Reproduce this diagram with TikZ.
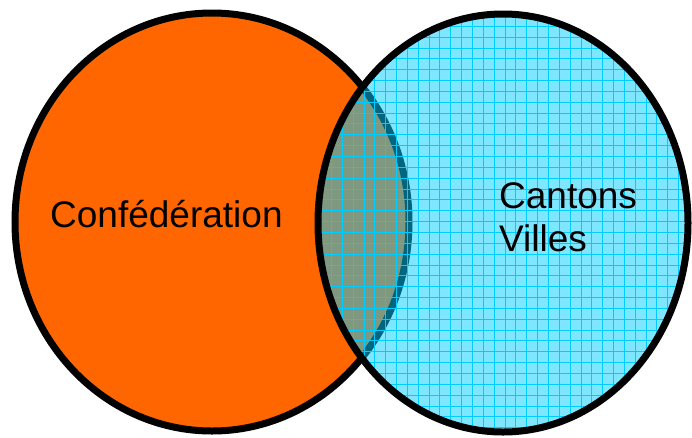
\documentclass[tikz,border=0pt]{standalone}
\usepackage{fontspec}
\setmainfont{Liberation Sans}
\definecolor{confed}{RGB}{255,102,0}
\definecolor{canton}{RGB}{0,205,255}
\definecolor{cantongrid}{RGB}{0,204,255}

\begin{document}
\begin{tikzpicture}[x=1pt, y=-1pt,
  venntext/.style={inner sep=0pt, anchor=base west, font=\fontsize{37}{43}\selectfont},
  rim/.style={line width=7pt}]
\useasboundingbox (0,0) rectangle (692,437);
% federal level
\draw[rim, fill=confed] (212,222) ellipse [x radius=197pt, y radius=209pt];
% cantonal level, see-through with a grid
\fill[canton, opacity=0.5] (503,223) ellipse [x radius=185pt, y radius=209pt];
\begin{scope}
\clip (503,223) ellipse [x radius=185pt, y radius=209pt];
\begin{scope}[shift={(5.9,4.55)}]
\draw[cantongrid, line width=0.9pt, xstep=10.85pt, ystep=10.85pt] (300,0) grid (700,440);
\end{scope}
\end{scope}
\draw[rim] (503,223) ellipse [x radius=185pt, y radius=209pt];
\node[venntext] (confederation) at (50,227) {Confédération};
\node[venntext] (cantons) at (499,208) {Cantons};
\node[venntext] (villes) at (499,251.5) {Villes};
\end{tikzpicture}
\end{document}
